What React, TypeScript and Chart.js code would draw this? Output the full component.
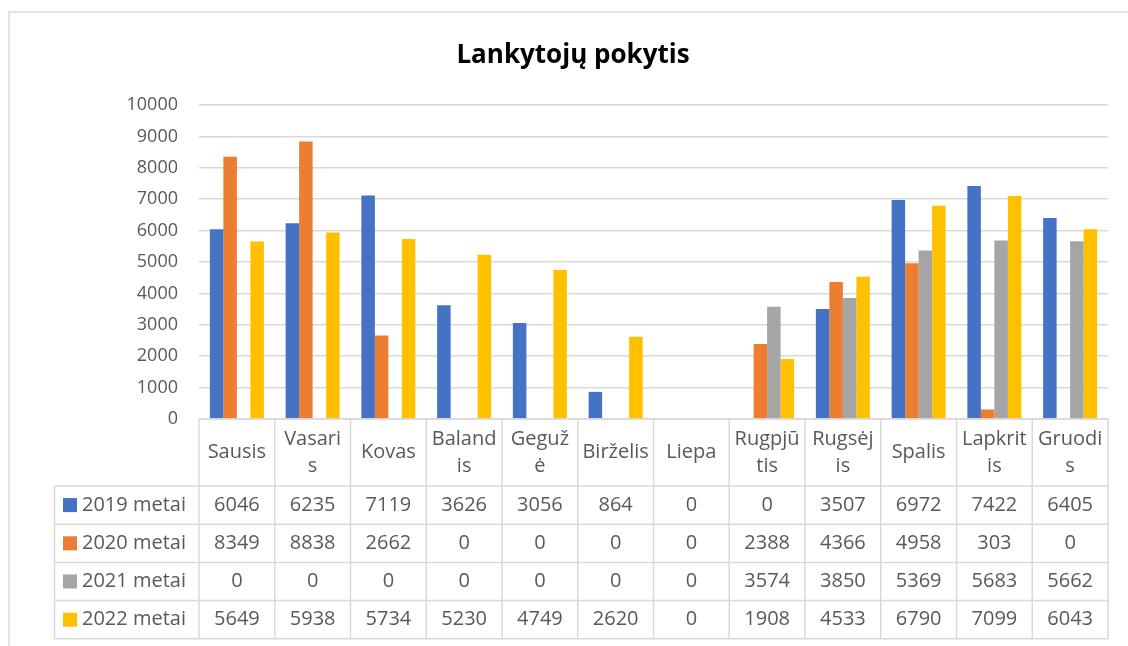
import React, { useEffect, useRef } from "react";
import { Chart, registerables } from "chart.js";

Chart.register(...registerables);

const TITLE = "Lankytojų pokytis";

// Category labels, as they wrap in the data table
const categoryLines: string[][] = [
  ["Sausis"],
  ["Vasari", "s"],
  ["Kovas"],
  ["Baland", "is"],
  ["Geguž", "ė"],
  ["Birželis"],
  ["Liepa"],
  ["Rugpjū", "tis"],
  ["Rugsėj", "is"],
  ["Spalis"],
  ["Lapkrit", "is"],
  ["Gruodi", "s"],
];

const seriesNames = ["2019 metai", "2020 metai", "2021 metai", "2022 metai"];
const values2019 = [6046, 6235, 7119, 3626, 3056, 864, 0, 0, 3507, 6972, 7422, 6405];
const values2020 = [8349, 8838, 2662, 0, 0, 0, 0, 2388, 4366, 4958, 303, 0];
const values2021 = [0, 0, 0, 0, 0, 0, 0, 3574, 3850, 5369, 5683, 5662];
const values2022 = [5649, 5938, 5734, 5230, 4749, 2620, 0, 1908, 4533, 6790, 7099, 6043];
const seriesColors = ["#4472C4", "#ED7D31", "#A5A5A5", "#FFC000"];

const Y_MIN = 0;
const Y_MAX = 10000;
const Y_STEP = 1000;

const FONT = '"Open Sans", "DejaVu Sans", sans-serif';
const TEXT_COLOR = "#595959";
const LINE_COLOR = "#D9D9D9";

const allSeries = [values2019, values2020, values2021, values2022];

const tablePlugin = {
  id: "excelTable",
  afterDraw(chart: any) {
    const ctx: CanvasRenderingContext2D = chart.ctx;
    const area = chart.chartArea;
    const xScale = chart.scales.x;
    const n = categoryLines.length;
    const colW = (area.right - area.left) / n;
    const top = area.bottom;
    const catBottom = top + 67;
    const rowH = 38.2;
    const legendLeft = 54.5;
    const tableBottom = catBottom + rowH * allSeries.length;

    ctx.save();
    // title
    ctx.fillStyle = "#000000";
    ctx.font = `bold 26px ${FONT}`;
    ctx.textAlign = "center";
    ctx.textBaseline = "middle";
    ctx.fillText(TITLE, 573, 56);

    // outer border
    ctx.strokeStyle = LINE_COLOR;
    ctx.lineWidth = 1.5;
    ctx.beginPath();
    ctx.moveTo(9, 646);
    ctx.lineTo(9, 12);
    ctx.lineTo(1128, 12);
    ctx.stroke();

    // table grid
    ctx.lineWidth = 1.5;
    ctx.beginPath();
    ctx.moveTo(area.left, top);
    ctx.lineTo(area.right, top);
    for (let r = 0; r <= allSeries.length; r++) {
      const y = catBottom + r * rowH;
      ctx.moveTo(legendLeft, y);
      ctx.lineTo(area.right, y);
    }
    ctx.moveTo(legendLeft, catBottom);
    ctx.lineTo(legendLeft, tableBottom);
    for (let c = 0; c <= n; c++) {
      const x = area.left + c * colW;
      ctx.moveTo(x, top);
      ctx.lineTo(x, tableBottom);
    }
    ctx.stroke();

    // category labels
    ctx.fillStyle = TEXT_COLOR;
    ctx.font = `20px ${FONT}`;
    ctx.textAlign = "center";
    ctx.textBaseline = "middle";
    const catMid = (top + catBottom) / 2;
    const lineH = 27;
    categoryLines.forEach((lines, i) => {
      const cx = xScale.getPixelForValue(i);
      const startY = catMid - ((lines.length - 1) * lineH) / 2;
      lines.forEach((t, k) => ctx.fillText(t, cx, startY + k * lineH));
    });

    // rows
    allSeries.forEach((vals, r) => {
      const cy = catBottom + r * rowH + rowH / 2;
      ctx.fillStyle = seriesColors[r];
      ctx.fillRect(63, cy - 7, 14, 14);
      ctx.fillStyle = TEXT_COLOR;
      ctx.textAlign = "left";
      ctx.fillText(seriesNames[r], 82, cy);
      ctx.textAlign = "center";
      vals.forEach((v, i) => {
        ctx.fillText(String(v), xScale.getPixelForValue(i), cy);
      });
    });
    ctx.restore();
  },
};

export default function App() {
  const ref = useRef<HTMLCanvasElement | null>(null);

  useEffect(() => {
    document.body.style.margin = "0";
    const canvas = ref.current;
    if (!canvas) return;
    const chart = new Chart(canvas, {
      type: "bar",
      data: {
        labels: categoryLines.map((l) => l.join("")),
        datasets: allSeries.map((vals, i) => ({
          label: seriesNames[i],
          data: vals,
          backgroundColor: seriesColors[i],
          borderWidth: 0,
          categoryPercentage: 0.713,
          barPercentage: 1,
        })),
      },
      options: {
        responsive: false,
        animation: false,
        layout: { padding: { top: 105, bottom: 227, left: 0, right: 20 } },
        plugins: {
          legend: { display: false },
          title: { display: false },
          tooltip: { enabled: false },
        },
        scales: {
          x: { display: false },
          y: {
            min: Y_MIN,
            max: Y_MAX,
            ticks: {
              stepSize: Y_STEP,
              padding: 21,
              color: TEXT_COLOR,
              font: { family: FONT, size: 18 },
              callback: (v: any) => String(v),
            },
            grid: { color: LINE_COLOR, lineWidth: 1.5, drawTicks: false },
            border: { display: false },
            afterFit: (scale: any) => {
              scale.width = 199;
            },
          },
        },
      },
      plugins: [tablePlugin],
    });
    return () => chart.destroy();
  }, []);

  return (
    <div style={{ width: 1128, height: 646, background: "#fff" }}>
      <canvas ref={ref} width={1128} height={646} style={{ display: "block" }} />
    </div>
  );
}
